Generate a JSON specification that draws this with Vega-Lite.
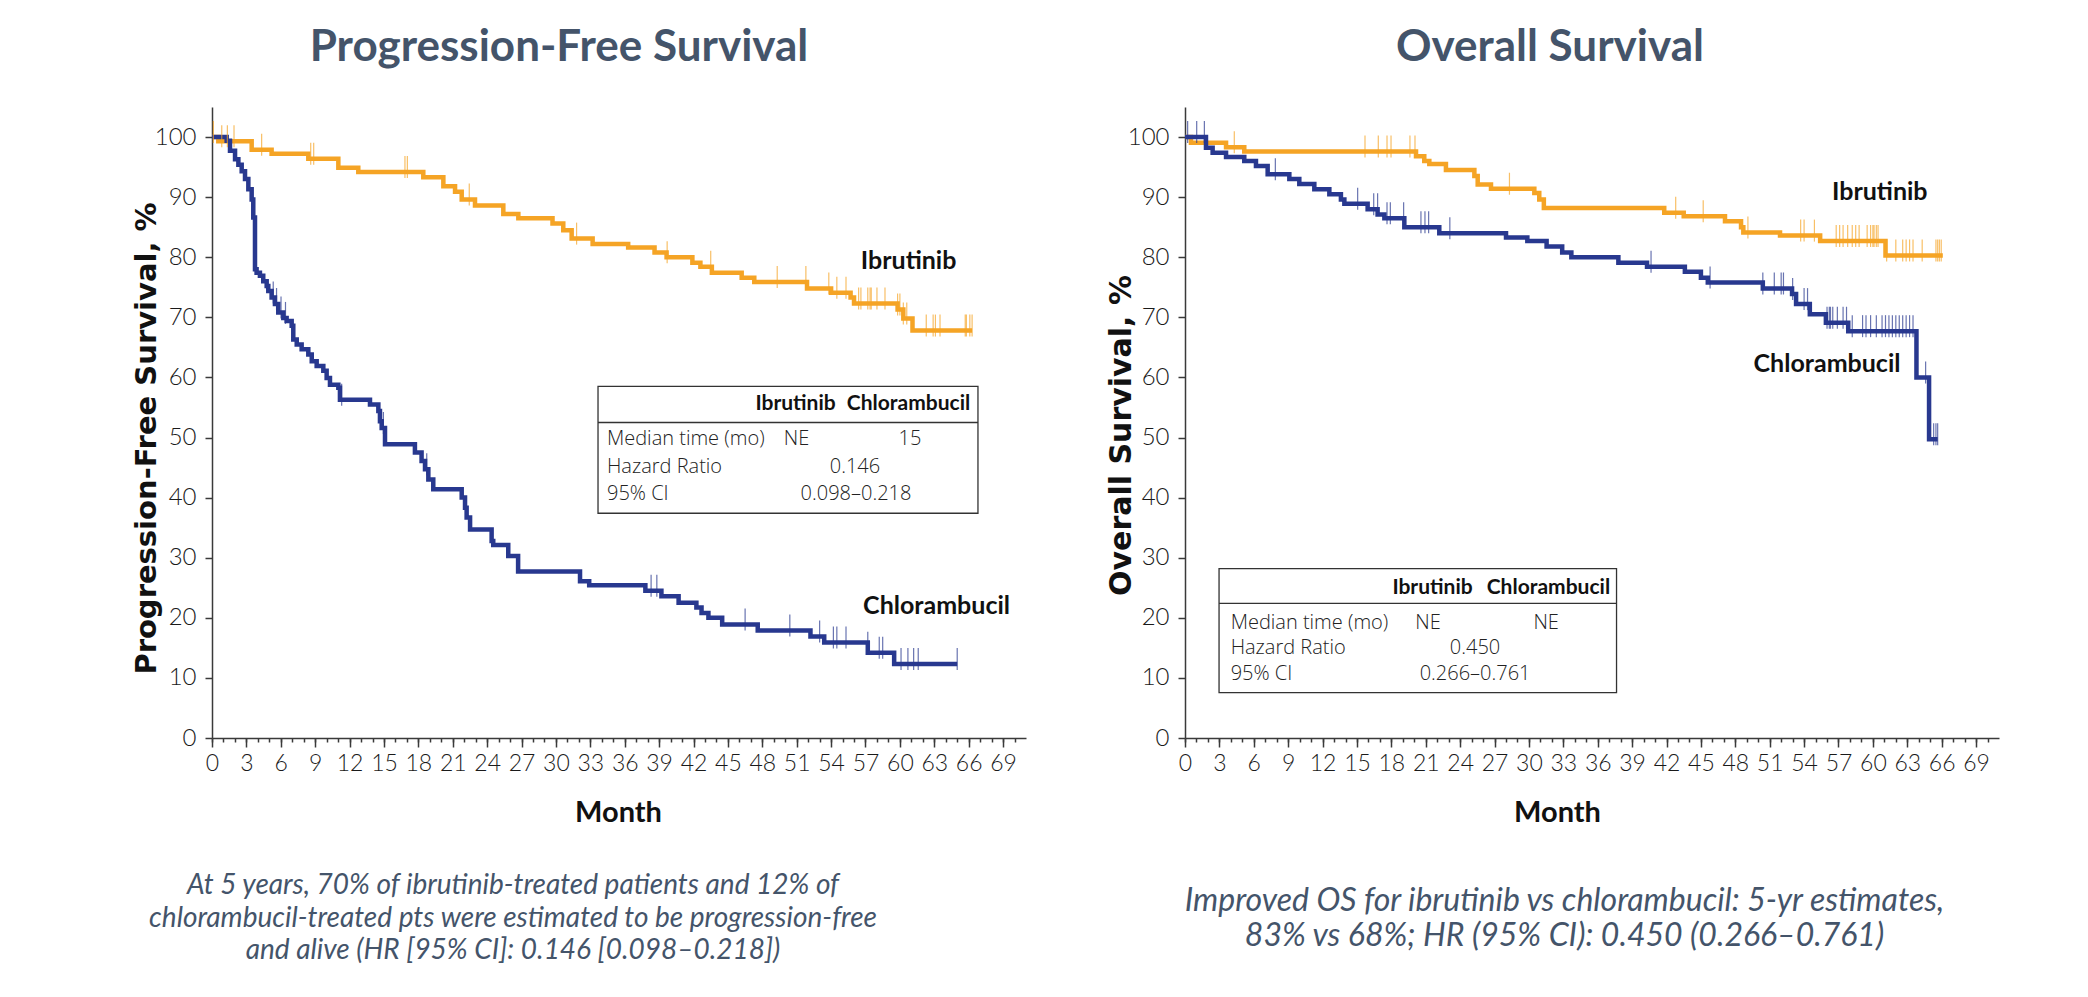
{
  "$schema": "https://vega.github.io/schema/vega-lite/v6.json",
  "background": "white",
  "padding": {"left": 131, "top": 26, "right": 10, "bottom": 5},
  "spacing": 80,
  "config": {
    "view": {"stroke": null},
    "axis": {"grid": false, "domainColor": "#3a3a3a", "tickColor": "#3a3a3a", "domainWidth": 1.5, "tickWidth": 1.5, "labelFont": "Lato", "labelFontWeight": 300, "labelColor": "#1a1a1a", "titleColor": "#111111"}
  },
  "datasets": {
    "pfs_curve": [
      {"arm":"Ibrutinib","month":0,"surv":100},{"arm":"Ibrutinib","month":0.55,"surv":99.3},{"arm":"Ibrutinib","month":3.46,"surv":97.9},{"arm":"Ibrutinib","month":5.2,"surv":97.2},{"arm":"Ibrutinib","month":8.4,"surv":96.4},{"arm":"Ibrutinib","month":11.02,"surv":94.9},{"arm":"Ibrutinib","month":12.76,"surv":94.2},{"arm":"Ibrutinib","month":18.43,"surv":93.3},{"arm":"Ibrutinib","month":20.18,"surv":91.8},{"arm":"Ibrutinib","month":21.2,"surv":90.9},{"arm":"Ibrutinib","month":21.78,"surv":89.6},{"arm":"Ibrutinib","month":22.94,"surv":88.6},{"arm":"Ibrutinib","month":25.41,"surv":87.2},{"arm":"Ibrutinib","month":26.72,"surv":86.5},{"arm":"Ibrutinib","month":29.7,"surv":85.6},{"arm":"Ibrutinib","month":30.64,"surv":84.5},{"arm":"Ibrutinib","month":31.37,"surv":83.1},{"arm":"Ibrutinib","month":33.2,"surv":82.2},{"arm":"Ibrutinib","month":36.3,"surv":81.6},{"arm":"Ibrutinib","month":38.6,"surv":80.8},{"arm":"Ibrutinib","month":39.65,"surv":80.0},{"arm":"Ibrutinib","month":41.9,"surv":79.1},{"arm":"Ibrutinib","month":42.6,"surv":78.4},{"arm":"Ibrutinib","month":43.6,"surv":77.4},{"arm":"Ibrutinib","month":46.2,"surv":76.6},{"arm":"Ibrutinib","month":47.3,"surv":75.9},{"arm":"Ibrutinib","month":51.9,"surv":74.8},{"arm":"Ibrutinib","month":54.0,"surv":74.1},{"arm":"Ibrutinib","month":55.7,"surv":73.3},{"arm":"Ibrutinib","month":56.0,"surv":72.3},{"arm":"Ibrutinib","month":59.8,"surv":71.3},{"arm":"Ibrutinib","month":60.3,"surv":69.8},{"arm":"Ibrutinib","month":61.1,"surv":67.8},{"arm":"Ibrutinib","month":66.3,"surv":67.8},
      {"arm":"Chlorambucil","month":0,"surv":100},{"arm":"Chlorambucil","month":1.28,"surv":99.4},{"arm":"Chlorambucil","month":1.57,"surv":97.7},{"arm":"Chlorambucil","month":2.01,"surv":96.3},{"arm":"Chlorambucil","month":2.3,"surv":95.4},{"arm":"Chlorambucil","month":2.59,"surv":94.3},{"arm":"Chlorambucil","month":2.88,"surv":93.0},{"arm":"Chlorambucil","month":3.17,"surv":91.3},{"arm":"Chlorambucil","month":3.46,"surv":89.6},{"arm":"Chlorambucil","month":3.6,"surv":86.6},{"arm":"Chlorambucil","month":3.75,"surv":78.0},{"arm":"Chlorambucil","month":3.89,"surv":77.4},{"arm":"Chlorambucil","month":4.18,"surv":76.9},{"arm":"Chlorambucil","month":4.47,"surv":76.0},{"arm":"Chlorambucil","month":4.77,"surv":75.2},{"arm":"Chlorambucil","month":4.91,"surv":74.4},{"arm":"Chlorambucil","month":5.2,"surv":73.3},{"arm":"Chlorambucil","month":5.49,"surv":72.2},{"arm":"Chlorambucil","month":5.78,"surv":70.8},{"arm":"Chlorambucil","month":6.22,"surv":69.9},{"arm":"Chlorambucil","month":6.51,"surv":69.4},{"arm":"Chlorambucil","month":6.95,"surv":68.6},{"arm":"Chlorambucil","month":7.09,"surv":66.3},{"arm":"Chlorambucil","month":7.39,"surv":65.5},{"arm":"Chlorambucil","month":7.82,"surv":64.7},{"arm":"Chlorambucil","month":8.4,"surv":63.8},{"arm":"Chlorambucil","month":8.7,"surv":62.7},{"arm":"Chlorambucil","month":9.13,"surv":61.9},{"arm":"Chlorambucil","month":9.71,"surv":61.1},{"arm":"Chlorambucil","month":10.0,"surv":59.9},{"arm":"Chlorambucil","month":10.29,"surv":58.8},{"arm":"Chlorambucil","month":11.02,"surv":58.3},{"arm":"Chlorambucil","month":11.16,"surv":56.3},{"arm":"Chlorambucil","month":13.78,"surv":55.5},{"arm":"Chlorambucil","month":14.51,"surv":54.4},{"arm":"Chlorambucil","month":14.65,"surv":52.7},{"arm":"Chlorambucil","month":14.8,"surv":51.6},{"arm":"Chlorambucil","month":15.09,"surv":48.9},{"arm":"Chlorambucil","month":17.7,"surv":47.5},{"arm":"Chlorambucil","month":18.28,"surv":46.1},{"arm":"Chlorambucil","month":18.58,"surv":44.7},{"arm":"Chlorambucil","month":18.87,"surv":43.0},{"arm":"Chlorambucil","month":19.3,"surv":41.4},{"arm":"Chlorambucil","month":21.78,"surv":40.0},{"arm":"Chlorambucil","month":22.07,"surv":38.3},{"arm":"Chlorambucil","month":22.21,"surv":36.7},{"arm":"Chlorambucil","month":22.51,"surv":34.7},{"arm":"Chlorambucil","month":24.39,"surv":32.8},{"arm":"Chlorambucil","month":24.53,"surv":32.1},{"arm":"Chlorambucil","month":25.84,"surv":30.3},{"arm":"Chlorambucil","month":26.7,"surv":27.7},{"arm":"Chlorambucil","month":32.1,"surv":26.1},{"arm":"Chlorambucil","month":32.9,"surv":25.4},{"arm":"Chlorambucil","month":37.8,"surv":24.5},{"arm":"Chlorambucil","month":39.2,"surv":23.6},{"arm":"Chlorambucil","month":40.7,"surv":22.5},{"arm":"Chlorambucil","month":42.25,"surv":21.7},{"arm":"Chlorambucil","month":42.7,"surv":20.8},{"arm":"Chlorambucil","month":43.3,"surv":20.0},{"arm":"Chlorambucil","month":44.5,"surv":18.9},{"arm":"Chlorambucil","month":47.6,"surv":17.9},{"arm":"Chlorambucil","month":52.2,"surv":16.9},{"arm":"Chlorambucil","month":53.4,"surv":15.9},{"arm":"Chlorambucil","month":57.2,"surv":14.2},{"arm":"Chlorambucil","month":59.5,"surv":12.3},{"arm":"Chlorambucil","month":65.0,"surv":12.3}
    ],
    "pfs_cens": [
      {"arm":"Ibrutinib","month":0.12,"surv":100},{"arm":"Ibrutinib","month":0.85,"surv":99.3},{"arm":"Ibrutinib","month":1.34,"surv":99.3},{"arm":"Ibrutinib","month":1.92,"surv":99.3},{"arm":"Ibrutinib","month":4.33,"surv":97.9},{"arm":"Ibrutinib","month":8.61,"surv":96.4},{"arm":"Ibrutinib","month":8.87,"surv":96.4},{"arm":"Ibrutinib","month":16.83,"surv":94.2},{"arm":"Ibrutinib","month":17.04,"surv":94.2},{"arm":"Ibrutinib","month":22.44,"surv":89.6},{"arm":"Ibrutinib","month":31.8,"surv":83.1},{"arm":"Ibrutinib","month":39.7,"surv":80.0},{"arm":"Ibrutinib","month":43.5,"surv":78.4},{"arm":"Ibrutinib","month":49.3,"surv":75.9},{"arm":"Ibrutinib","month":51.8,"surv":75.9},{"arm":"Ibrutinib","month":53.8,"surv":74.8},{"arm":"Ibrutinib","month":54.5,"surv":74.1},{"arm":"Ibrutinib","month":55.3,"surv":74.1},{"arm":"Ibrutinib","month":56.4,"surv":72.3},{"arm":"Ibrutinib","month":56.6,"surv":72.3},{"arm":"Ibrutinib","month":57.2,"surv":72.3},{"arm":"Ibrutinib","month":57.4,"surv":72.3},{"arm":"Ibrutinib","month":57.5,"surv":72.3},{"arm":"Ibrutinib","month":58.0,"surv":72.3},{"arm":"Ibrutinib","month":58.7,"surv":72.3},{"arm":"Ibrutinib","month":59.8,"surv":71.3},{"arm":"Ibrutinib","month":60.0,"surv":71.3},{"arm":"Ibrutinib","month":60.3,"surv":69.8},{"arm":"Ibrutinib","month":60.6,"surv":69.8},{"arm":"Ibrutinib","month":62.3,"surv":67.8},{"arm":"Ibrutinib","month":62.9,"surv":67.8},{"arm":"Ibrutinib","month":63.1,"surv":67.8},{"arm":"Ibrutinib","month":63.5,"surv":67.8},{"arm":"Ibrutinib","month":65.7,"surv":67.8},{"arm":"Ibrutinib","month":65.8,"surv":67.8},{"arm":"Ibrutinib","month":66.1,"surv":67.8},{"arm":"Ibrutinib","month":66.3,"surv":67.8},
      {"arm":"Chlorambucil","month":5.34,"surv":73.3},{"arm":"Chlorambucil","month":5.63,"surv":72.2},{"arm":"Chlorambucil","month":6.02,"surv":70.8},{"arm":"Chlorambucil","month":6.41,"surv":69.9},{"arm":"Chlorambucil","month":11.31,"surv":56.3},{"arm":"Chlorambucil","month":14.95,"surv":51.6},{"arm":"Chlorambucil","month":18.73,"surv":44.7},{"arm":"Chlorambucil","month":38.3,"surv":24.5},{"arm":"Chlorambucil","month":38.8,"surv":24.5},{"arm":"Chlorambucil","month":46.5,"surv":18.9},{"arm":"Chlorambucil","month":50.4,"surv":17.9},{"arm":"Chlorambucil","month":53.0,"surv":16.9},{"arm":"Chlorambucil","month":54.2,"surv":15.9},{"arm":"Chlorambucil","month":54.5,"surv":15.9},{"arm":"Chlorambucil","month":55.3,"surv":15.9},{"arm":"Chlorambucil","month":57.2,"surv":15.0},{"arm":"Chlorambucil","month":58.2,"surv":14.2},{"arm":"Chlorambucil","month":58.5,"surv":14.2},{"arm":"Chlorambucil","month":60.1,"surv":12.3},{"arm":"Chlorambucil","month":60.7,"surv":12.3},{"arm":"Chlorambucil","month":61.2,"surv":12.3},{"arm":"Chlorambucil","month":61.6,"surv":12.3},{"arm":"Chlorambucil","month":65.0,"surv":12.3}
    ],
    "pfs_box": [{"month":33.67,"month_end":66.81,"surv":37.4,"surv_end":58.5}],
    "pfs_div": [{"month":33.67,"month_end":66.81,"surv":52.5}],
    "pfs_head": [{"label":"Ibrutinib","month":50.9,"surv":54.6},{"label":"Chlorambucil","month":60.75,"surv":54.6}],
    "pfs_rowlab": [{"label":"Median time (mo)","month":34.45,"surv":48.75},{"label":"Hazard Ratio","month":34.45,"surv":44.1},{"label":"95% CI","month":34.45,"surv":39.6}],
    "pfs_rowval": [{"label":"NE","month":50.98,"surv":48.75},{"label":"15","month":60.88,"surv":48.75},{"label":"0.146","month":56.08,"surv":44.1},{"label":"0.098–0.218","month":56.17,"surv":39.6}],
    "pfs_lab": [{"label":"Ibrutinib","month":60.76,"surv":78.0},{"label":"Chlorambucil","month":63.2,"surv":20.6}],
    "os_curve": [
      {"arm":"Ibrutinib","month":0,"surv":100},{"arm":"Ibrutinib","month":0.52,"surv":99.05},{"arm":"Ibrutinib","month":3.58,"surv":98.3},{"arm":"Ibrutinib","month":5.17,"surv":97.6},{"arm":"Ibrutinib","month":20.15,"surv":96.8},{"arm":"Ibrutinib","month":20.87,"surv":96.0},{"arm":"Ibrutinib","month":21.31,"surv":95.5},{"arm":"Ibrutinib","month":22.76,"surv":94.5},{"arm":"Ibrutinib","month":25.24,"surv":93.5},{"arm":"Ibrutinib","month":25.53,"surv":92.1},{"arm":"Ibrutinib","month":26.69,"surv":91.4},{"arm":"Ibrutinib","month":30.47,"surv":90.7},{"arm":"Ibrutinib","month":30.9,"surv":89.6},{"arm":"Ibrutinib","month":31.3,"surv":88.2},{"arm":"Ibrutinib","month":41.8,"surv":87.4},{"arm":"Ibrutinib","month":43.5,"surv":86.8},{"arm":"Ibrutinib","month":47.1,"surv":86.0},{"arm":"Ibrutinib","month":48.5,"surv":85.0},{"arm":"Ibrutinib","month":48.7,"surv":84.1},{"arm":"Ibrutinib","month":51.9,"surv":83.6},{"arm":"Ibrutinib","month":55.4,"surv":82.7},{"arm":"Ibrutinib","month":61.1,"surv":80.3},{"arm":"Ibrutinib","month":66.1,"surv":80.3},
      {"arm":"Chlorambucil","month":0,"surv":100},{"arm":"Chlorambucil","month":1.83,"surv":98.2},{"arm":"Chlorambucil","month":2.41,"surv":97.4},{"arm":"Chlorambucil","month":3.58,"surv":96.7},{"arm":"Chlorambucil","month":5.17,"surv":96.0},{"arm":"Chlorambucil","month":6.19,"surv":95.2},{"arm":"Chlorambucil","month":7.21,"surv":93.8},{"arm":"Chlorambucil","month":9.1,"surv":93.0},{"arm":"Chlorambucil","month":9.97,"surv":92.2},{"arm":"Chlorambucil","month":11.28,"surv":91.3},{"arm":"Chlorambucil","month":12.59,"surv":90.5},{"arm":"Chlorambucil","month":13.6,"surv":89.6},{"arm":"Chlorambucil","month":13.9,"surv":88.9},{"arm":"Chlorambucil","month":15.93,"surv":88.0},{"arm":"Chlorambucil","month":16.8,"surv":87.1},{"arm":"Chlorambucil","month":17.39,"surv":86.5},{"arm":"Chlorambucil","month":19.13,"surv":85.0},{"arm":"Chlorambucil","month":22.18,"surv":84.0},{"arm":"Chlorambucil","month":28.0,"surv":83.3},{"arm":"Chlorambucil","month":29.86,"surv":82.7},{"arm":"Chlorambucil","month":31.54,"surv":81.8},{"arm":"Chlorambucil","month":32.9,"surv":80.8},{"arm":"Chlorambucil","month":33.7,"surv":80.0},{"arm":"Chlorambucil","month":37.8,"surv":79.1},{"arm":"Chlorambucil","month":40.3,"surv":78.4},{"arm":"Chlorambucil","month":43.6,"surv":77.6},{"arm":"Chlorambucil","month":45.0,"surv":76.6},{"arm":"Chlorambucil","month":45.6,"surv":75.8},{"arm":"Chlorambucil","month":50.4,"surv":74.8},{"arm":"Chlorambucil","month":52.95,"surv":73.9},{"arm":"Chlorambucil","month":53.3,"surv":72.2},{"arm":"Chlorambucil","month":54.5,"surv":70.5},{"arm":"Chlorambucil","month":55.9,"surv":69.1},{"arm":"Chlorambucil","month":57.85,"surv":67.7},{"arm":"Chlorambucil","month":63.8,"surv":60.0},{"arm":"Chlorambucil","month":64.9,"surv":49.7},{"arm":"Chlorambucil","month":65.65,"surv":49.7}
    ],
    "os_cens": [
      {"arm":"Ibrutinib","month":4.3,"surv":98.3},{"arm":"Ibrutinib","month":15.7,"surv":97.6},{"arm":"Ibrutinib","month":16.86,"surv":97.6},{"arm":"Ibrutinib","month":17.62,"surv":97.6},{"arm":"Ibrutinib","month":17.97,"surv":97.6},{"arm":"Ibrutinib","month":19.62,"surv":97.6},{"arm":"Ibrutinib","month":20.06,"surv":97.6},{"arm":"Ibrutinib","month":28.3,"surv":91.4},{"arm":"Ibrutinib","month":42.8,"surv":87.4},{"arm":"Ibrutinib","month":45.2,"surv":86.8},{"arm":"Ibrutinib","month":49.1,"surv":84.1},{"arm":"Ibrutinib","month":53.7,"surv":83.6},{"arm":"Ibrutinib","month":54.0,"surv":83.6},{"arm":"Ibrutinib","month":54.9,"surv":83.6},{"arm":"Ibrutinib","month":56.8,"surv":82.7},{"arm":"Ibrutinib","month":57.1,"surv":82.7},{"arm":"Ibrutinib","month":57.4,"surv":82.7},{"arm":"Ibrutinib","month":57.8,"surv":82.7},{"arm":"Ibrutinib","month":58.2,"surv":82.7},{"arm":"Ibrutinib","month":58.5,"surv":82.7},{"arm":"Ibrutinib","month":58.8,"surv":82.7},{"arm":"Ibrutinib","month":59.5,"surv":82.7},{"arm":"Ibrutinib","month":59.8,"surv":82.7},{"arm":"Ibrutinib","month":60.0,"surv":82.7},{"arm":"Ibrutinib","month":60.1,"surv":82.7},{"arm":"Ibrutinib","month":60.3,"surv":82.7},{"arm":"Ibrutinib","month":60.45,"surv":82.7},{"arm":"Ibrutinib","month":61.2,"surv":80.3},{"arm":"Ibrutinib","month":62.0,"surv":80.3},{"arm":"Ibrutinib","month":62.6,"surv":80.3},{"arm":"Ibrutinib","month":62.9,"surv":80.3},{"arm":"Ibrutinib","month":63.2,"surv":80.3},{"arm":"Ibrutinib","month":63.5,"surv":80.3},{"arm":"Ibrutinib","month":64.3,"surv":80.3},{"arm":"Ibrutinib","month":65.5,"surv":80.3},{"arm":"Ibrutinib","month":65.65,"surv":80.3},{"arm":"Ibrutinib","month":65.8,"surv":80.3},{"arm":"Ibrutinib","month":65.96,"surv":80.3},
      {"arm":"Chlorambucil","month":0.23,"surv":100},{"arm":"Chlorambucil","month":1.02,"surv":100},{"arm":"Chlorambucil","month":1.69,"surv":100},{"arm":"Chlorambucil","month":7.88,"surv":93.8},{"arm":"Chlorambucil","month":15.06,"surv":88.9},{"arm":"Chlorambucil","month":16.46,"surv":88.0},{"arm":"Chlorambucil","month":16.8,"surv":88.0},{"arm":"Chlorambucil","month":17.62,"surv":86.5},{"arm":"Chlorambucil","month":17.91,"surv":86.5},{"arm":"Chlorambucil","month":19.07,"surv":86.5},{"arm":"Chlorambucil","month":20.58,"surv":85.0},{"arm":"Chlorambucil","month":20.93,"surv":85.0},{"arm":"Chlorambucil","month":21.25,"surv":85.0},{"arm":"Chlorambucil","month":23.1,"surv":84.0},{"arm":"Chlorambucil","month":40.65,"surv":78.4},{"arm":"Chlorambucil","month":45.8,"surv":75.8},{"arm":"Chlorambucil","month":50.4,"surv":74.8},{"arm":"Chlorambucil","month":51.4,"surv":74.8},{"arm":"Chlorambucil","month":52.0,"surv":74.8},{"arm":"Chlorambucil","month":52.2,"surv":74.8},{"arm":"Chlorambucil","month":53.0,"surv":73.9},{"arm":"Chlorambucil","month":54.0,"surv":72.2},{"arm":"Chlorambucil","month":54.3,"surv":72.2},{"arm":"Chlorambucil","month":56.0,"surv":69.1},{"arm":"Chlorambucil","month":56.2,"surv":69.1},{"arm":"Chlorambucil","month":56.3,"surv":69.1},{"arm":"Chlorambucil","month":56.5,"surv":69.1},{"arm":"Chlorambucil","month":56.9,"surv":69.1},{"arm":"Chlorambucil","month":57.4,"surv":69.1},{"arm":"Chlorambucil","month":57.7,"surv":69.1},{"arm":"Chlorambucil","month":58.2,"surv":67.7},{"arm":"Chlorambucil","month":59.1,"surv":67.7},{"arm":"Chlorambucil","month":59.4,"surv":67.7},{"arm":"Chlorambucil","month":59.8,"surv":67.7},{"arm":"Chlorambucil","month":60.3,"surv":67.7},{"arm":"Chlorambucil","month":60.8,"surv":67.7},{"arm":"Chlorambucil","month":61.1,"surv":67.7},{"arm":"Chlorambucil","month":61.4,"surv":67.7},{"arm":"Chlorambucil","month":61.7,"surv":67.7},{"arm":"Chlorambucil","month":62.0,"surv":67.7},{"arm":"Chlorambucil","month":62.3,"surv":67.7},{"arm":"Chlorambucil","month":62.6,"surv":67.7},{"arm":"Chlorambucil","month":62.9,"surv":67.7},{"arm":"Chlorambucil","month":63.2,"surv":67.7},{"arm":"Chlorambucil","month":63.5,"surv":67.7},{"arm":"Chlorambucil","month":64.6,"surv":60.0},{"arm":"Chlorambucil","month":65.3,"surv":49.7},{"arm":"Chlorambucil","month":65.5,"surv":49.7},{"arm":"Chlorambucil","month":65.65,"surv":49.7}
    ],
    "os_box": [{"month":2.97,"month_end":37.64,"surv":7.55,"surv_end":28.2}],
    "os_div": [{"month":2.97,"month_end":37.64,"surv":22.4}],
    "os_head": [{"label":"Ibrutinib","month":21.59,"surv":24.0},{"label":"Chlorambucil","month":31.7,"surv":24.0}],
    "os_rowlab": [{"label":"Median time (mo)","month":3.98,"surv":18.1},{"label":"Hazard Ratio","month":3.98,"surv":13.9},{"label":"95% CI","month":3.98,"surv":9.6}],
    "os_rowval": [{"label":"NE","month":21.2,"surv":18.1},{"label":"NE","month":31.5,"surv":18.1},{"label":"0.450","month":25.3,"surv":13.9},{"label":"0.266–0.761","month":25.3,"surv":9.6}],
    "os_lab": [{"label":"Ibrutinib","month":60.6,"surv":89.5},{"label":"Chlorambucil","month":56.0,"surv":60.9}]
  },
  "hconcat": [
    {
      "title": {"text": ["At 5 years, 70% of ibrutinib-treated patients and 12% of", "chlorambucil-treated pts were estimated to be progression-free", "and alive (HR [95% CI]: 0.146 [0.098–0.218])"], "orient": "bottom", "anchor": "middle", "frame": "bounds", "font": "Lato", "fontStyle": "italic", "fontWeight": "normal", "fontSize": 28, "lineHeight": 32.5, "color": "#44546A", "offset": 45, "dx": -66},
      "vconcat": [
        {
          "width": 814, "height": 631,
          "title": {"text": "Progression-Free Survival", "anchor": "middle", "frame": "group", "font": "Lato", "fontSize": 44, "fontWeight": "bold", "color": "#44546A", "baseline": "alphabetic", "offset": 2, "dx": -60},
          "resolve": {"axis": {"x": "independent"}},
          "layer": [
            {
              "data": {"name": "pfs_curve"},
              "mark": {"type": "line", "interpolate": "step-after", "strokeWidth": 4.5},
              "encoding": {
                "x": {"field": "month", "type": "quantitative", "scale": {"domain": [0, 71], "nice": false, "zero": false},
                  "axis": {"values": [0,3,6,9,12,15,18,21,24,27,30,33,36,39,42,45,48,51,54,57,60,63,66,69], "title": "Month", "titleFont": "Lato", "titleFontWeight": "bold", "titleFontSize": 29, "titleX": 406, "titleY": 83, "titleAlign": "center", "titleBaseline": "alphabetic", "tickSize": 9, "labelPadding": 5, "labelFontSize": 23, "labelOverlap": false, "labelFlush": false, "labelBound": false}},
                "y": {"field": "surv", "type": "quantitative", "scale": {"domain": [0, 105], "nice": false},
                  "axis": {"values": [0,10,20,30,40,50,60,70,80,90,100], "title": "Progression-Free Survival, %", "titleFont": "DejaVu Sans", "titleFontWeight": "bold", "titleFontSize": 29, "titleX": -57, "titleY": 331, "titleAngle": 270, "titleAlign": "center", "titleBaseline": "alphabetic", "tickSize": 7, "labelPadding": 9, "labelFontSize": 24}},
                "color": {"field": "arm", "type": "nominal", "scale": {"domain": ["Ibrutinib", "Chlorambucil"], "range": ["#F5A425", "#28388F"]}, "legend": null},
                "detail": {"field": "arm"}
              }
            },
            {
              "data": {"name": "pfs_cens"},
              "mark": {"type": "tick", "orient": "vertical", "size": 22, "thickness": 1.2, "yOffset": -5},
              "encoding": {
                "x": {"field": "month", "type": "quantitative", "axis": {"orient": "bottom", "values": [0,1,2,3,4,5,6,7,8,9,10,11,12,13,14,15,16,17,18,19,20,21,22,23,24,25,26,27,28,29,30,31,32,33,34,35,36,37,38,39,40,41,42,43,44,45,46,47,48,49,50,51,52,53,54,55,56,57,58,59,60,61,62,63,64,65,66,67,68,69,70], "tickSize": 4, "labels": false, "domain": false, "title": null}},
                "y": {"field": "surv", "type": "quantitative"},
                "color": {"field": "arm", "type": "nominal", "legend": null}
              }
            },
            {
              "data": {"name": "pfs_box"},
              "mark": {"type": "rect", "fill": "transparent", "stroke": "#333333", "strokeWidth": 1.3},
              "encoding": {
                "x": {"field": "month", "type": "quantitative", "axis": null},
                "x2": {"field": "month_end"},
                "y": {"field": "surv", "type": "quantitative"},
                "y2": {"field": "surv_end"}
              }
            },
            {
              "data": {"name": "pfs_div"},
              "mark": {"type": "rule", "color": "#333333", "strokeWidth": 1.3},
              "encoding": {
                "x": {"field": "month", "type": "quantitative", "axis": null},
                "x2": {"field": "month_end"},
                "y": {"field": "surv", "type": "quantitative"}
              }
            },
            {
              "data": {"name": "pfs_head"},
              "mark": {"type": "text", "font": "Lato", "fontWeight": "bold", "fontSize": 21, "color": "#111111", "align": "center", "baseline": "alphabetic"},
              "encoding": {
                "x": {"field": "month", "type": "quantitative", "axis": null},
                "y": {"field": "surv", "type": "quantitative"},
                "text": {"field": "label"}
              }
            },
            {
              "data": {"name": "pfs_rowlab"},
              "mark": {"type": "text", "font": "Open Sans", "fontWeight": 300, "fontSize": 20, "color": "#222222", "align": "left", "baseline": "alphabetic"},
              "encoding": {
                "x": {"field": "month", "type": "quantitative", "axis": null},
                "y": {"field": "surv", "type": "quantitative"},
                "text": {"field": "label"}
              }
            },
            {
              "data": {"name": "pfs_rowval"},
              "mark": {"type": "text", "font": "Open Sans", "fontWeight": 300, "fontSize": 20, "color": "#222222", "align": "center", "baseline": "alphabetic"},
              "encoding": {
                "x": {"field": "month", "type": "quantitative", "axis": null},
                "y": {"field": "surv", "type": "quantitative"},
                "text": {"field": "label"}
              }
            },
            {
              "data": {"name": "pfs_lab"},
              "mark": {"type": "text", "font": "Lato", "fontWeight": "bold", "fontSize": 25, "color": "#111111", "align": "center", "baseline": "alphabetic"},
              "encoding": {
                "x": {"field": "month", "type": "quantitative", "axis": null},
                "y": {"field": "surv", "type": "quantitative"},
                "text": {"field": "label"}
              }
            }
          ]
        }
      ]
    },
    {
      "title": {"text": ["Improved OS for ibrutinib vs chlorambucil: 5-yr estimates,", "83% vs 68%; HR (95% CI): 0.450 (0.266–0.761)"], "orient": "bottom", "anchor": "middle", "frame": "bounds", "font": "Lato", "fontStyle": "italic", "fontWeight": "normal", "fontSize": 32, "lineHeight": 35, "color": "#44546A", "offset": 59, "dx": 12},
      "vconcat": [
        {
          "width": 814, "height": 631,
          "title": {"text": "Overall Survival", "anchor": "middle", "frame": "group", "font": "Lato", "fontSize": 44, "fontWeight": "bold", "color": "#44546A", "baseline": "alphabetic", "offset": 2, "dx": -42},
          "resolve": {"axis": {"x": "independent"}},
          "layer": [
            {
              "data": {"name": "os_curve"},
              "mark": {"type": "line", "interpolate": "step-after", "strokeWidth": 4.5},
              "encoding": {
                "x": {"field": "month", "type": "quantitative", "scale": {"domain": [0, 71], "nice": false, "zero": false},
                  "axis": {"values": [0,3,6,9,12,15,18,21,24,27,30,33,36,39,42,45,48,51,54,57,60,63,66,69], "title": "Month", "titleFont": "Lato", "titleFontWeight": "bold", "titleFontSize": 29, "titleX": 372, "titleY": 83, "titleAlign": "center", "titleBaseline": "alphabetic", "tickSize": 9, "labelPadding": 5, "labelFontSize": 23, "labelOverlap": false, "labelFlush": false, "labelBound": false}},
                "y": {"field": "surv", "type": "quantitative", "scale": {"domain": [0, 105], "nice": false},
                  "axis": {"values": [0,10,20,30,40,50,60,70,80,90,100], "title": "Overall Survival, %", "titleFont": "DejaVu Sans", "titleFontWeight": "bold", "titleFontSize": 30, "titleX": -55, "titleY": 328, "titleAngle": 270, "titleAlign": "center", "titleBaseline": "alphabetic", "tickSize": 7, "labelPadding": 9, "labelFontSize": 24}},
                "color": {"field": "arm", "type": "nominal", "scale": {"domain": ["Ibrutinib", "Chlorambucil"], "range": ["#F5A425", "#28388F"]}, "legend": null},
                "detail": {"field": "arm"}
              }
            },
            {
              "data": {"name": "os_cens"},
              "mark": {"type": "tick", "orient": "vertical", "size": 22, "thickness": 1.2, "yOffset": -5},
              "encoding": {
                "x": {"field": "month", "type": "quantitative", "axis": {"orient": "bottom", "values": [0,1,2,3,4,5,6,7,8,9,10,11,12,13,14,15,16,17,18,19,20,21,22,23,24,25,26,27,28,29,30,31,32,33,34,35,36,37,38,39,40,41,42,43,44,45,46,47,48,49,50,51,52,53,54,55,56,57,58,59,60,61,62,63,64,65,66,67,68,69,70], "tickSize": 4, "labels": false, "domain": false, "title": null}},
                "y": {"field": "surv", "type": "quantitative"},
                "color": {"field": "arm", "type": "nominal", "legend": null}
              }
            },
            {
              "data": {"name": "os_box"},
              "mark": {"type": "rect", "fill": "transparent", "stroke": "#333333", "strokeWidth": 1.3},
              "encoding": {
                "x": {"field": "month", "type": "quantitative", "axis": null},
                "x2": {"field": "month_end"},
                "y": {"field": "surv", "type": "quantitative"},
                "y2": {"field": "surv_end"}
              }
            },
            {
              "data": {"name": "os_div"},
              "mark": {"type": "rule", "color": "#333333", "strokeWidth": 1.3},
              "encoding": {
                "x": {"field": "month", "type": "quantitative", "axis": null},
                "x2": {"field": "month_end"},
                "y": {"field": "surv", "type": "quantitative"}
              }
            },
            {
              "data": {"name": "os_head"},
              "mark": {"type": "text", "font": "Lato", "fontWeight": "bold", "fontSize": 21, "color": "#111111", "align": "center", "baseline": "alphabetic"},
              "encoding": {
                "x": {"field": "month", "type": "quantitative", "axis": null},
                "y": {"field": "surv", "type": "quantitative"},
                "text": {"field": "label"}
              }
            },
            {
              "data": {"name": "os_rowlab"},
              "mark": {"type": "text", "font": "Open Sans", "fontWeight": 300, "fontSize": 20, "color": "#222222", "align": "left", "baseline": "alphabetic"},
              "encoding": {
                "x": {"field": "month", "type": "quantitative", "axis": null},
                "y": {"field": "surv", "type": "quantitative"},
                "text": {"field": "label"}
              }
            },
            {
              "data": {"name": "os_rowval"},
              "mark": {"type": "text", "font": "Open Sans", "fontWeight": 300, "fontSize": 20, "color": "#222222", "align": "center", "baseline": "alphabetic"},
              "encoding": {
                "x": {"field": "month", "type": "quantitative", "axis": null},
                "y": {"field": "surv", "type": "quantitative"},
                "text": {"field": "label"}
              }
            },
            {
              "data": {"name": "os_lab"},
              "mark": {"type": "text", "font": "Lato", "fontWeight": "bold", "fontSize": 25, "color": "#111111", "align": "center", "baseline": "alphabetic"},
              "encoding": {
                "x": {"field": "month", "type": "quantitative", "axis": null},
                "y": {"field": "surv", "type": "quantitative"},
                "text": {"field": "label"}
              }
            }
          ]
        }
      ]
    }
  ]
}
